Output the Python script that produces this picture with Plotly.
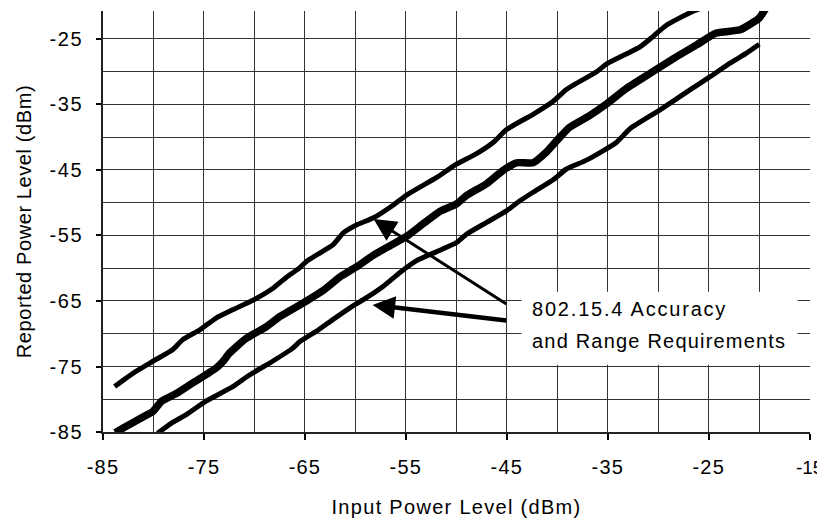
import plotly.graph_objects as go

# Upper requirement limit
upper_x = [-83.85, -82.0, -80.05, -78.07, -77.1, -75.4, -73.8, -72.1, -70.1, -68.2, -66.85,
           -65.5, -64.8, -62.2, -61.2, -59.9, -58.2, -56.2, -54.9, -51.9, -50.3, -48.0,
           -46.35, -45.0, -42.4, -40.4, -39.1, -36.1, -35.1, -31.8, -30.5, -29.2, -26.6, -24.5]
upper_y = [-78.05, -76.0, -74.2, -72.4, -70.9, -69.4, -67.6, -66.3, -64.85, -63.1, -61.4,
           -59.9, -58.9, -56.4, -54.6, -53.4, -52.3, -50.3, -48.8, -46.1, -44.4, -42.5,
           -40.8, -38.8, -36.5, -34.5, -32.7, -30.0, -28.8, -26.2, -24.6, -22.9, -20.8, -19.6]

# Measured reported power
meas_x = [-83.8, -83.0, -81.4, -80.05, -79.2, -77.7, -76.1, -73.8, -73.1, -72.5, -70.8,
          -68.8, -67.5, -66.5, -64.8, -63.2, -61.5, -59.9, -58.2, -56.6, -54.9, -53.2,
          -51.6, -50.0, -49.0, -47.0, -45.4, -44.05, -42.4, -41.1, -40.1, -38.8, -36.8,
          -35.1, -33.2, -30.85, -28.5, -26.2, -24.25, -21.9, -20.0, -19.3]
meas_y = [-85.1, -84.4, -83.0, -81.85, -80.3, -79.1, -77.5, -75.25, -74.2, -73.0, -70.7,
          -68.9, -67.4, -66.5, -64.95, -63.4, -61.3, -59.8, -58.0, -56.6, -55.1, -53.1,
          -51.3, -50.2, -48.9, -47.1, -45.1, -43.9, -43.9, -42.3, -40.6, -38.5, -36.7,
          -34.9, -32.6, -30.3, -28.0, -25.9, -24.1, -23.6, -21.8, -20.2]

# Lower requirement limit
lower_x = [-79.6, -78.07, -76.75, -74.8, -72.1, -70.5, -68.2, -66.2, -65.5, -63.84, -62.2,
           -60.5, -58.9, -57.2, -55.55, -53.9, -52.0, -50.0, -49.0, -47.0, -45.0, -43.7,
           -42.4, -40.4, -39.1, -37.1, -34.15, -32.8, -29.9, -26.9, -24.9, -22.9, -21.3, -20.0]
lower_y = [-85.2, -83.5, -82.35, -80.3, -78.05, -76.3, -74.2, -72.2, -71.2, -69.6, -67.8,
           -66.0, -64.5, -62.7, -60.6, -58.8, -57.5, -56.1, -54.8, -53.0, -51.2, -49.7,
           -48.4, -46.5, -44.85, -43.5, -40.8, -38.7, -35.9, -32.8, -30.8, -28.7, -27.2, -25.8]

x_ticks = [-85, -75, -65, -55, -45, -35, -25, -15]
x_tick_labels = ["-85", "-75", "-65", "-55", "-45", "-35", "-25", "-15"]
y_ticks = [-85, -75, -65, -55, -45, -35, -25]
y_tick_labels = ["-85", "-75", "-65", "-55", "-45", "-35", "-25"]
x_range = [-85, -14.97]
y_range = [-85, -20.73]
grid_step = 5

label_lines = ["802.15.4 Accuracy", "and Range Requirements"]
x_title = "Input Power Level (dBm)"
y_title = "Reported Power Level (dBm)"

FONT = "Liberation Sans, Arial, sans-serif"


def spaced(t, ls):
    return '<span style="letter-spacing:%spx">%s</span>' % (ls, t)


fig = go.Figure()
fig.add_trace(go.Scatter(x=upper_x, y=upper_y, mode="lines",
                         line=dict(color="black", width=5, shape="spline", smoothing=0.5),
                         showlegend=False))
fig.add_trace(go.Scatter(x=meas_x, y=meas_y, mode="lines",
                         line=dict(color="black", width=7.5, shape="spline", smoothing=0.5),
                         showlegend=False))
fig.add_trace(go.Scatter(x=lower_x, y=lower_y, mode="lines",
                         line=dict(color="black", width=5, shape="spline", smoothing=0.5),
                         showlegend=False))

# white label box
fig.add_shape(type="rect", xref="x", yref="y", x0=-43.55, x1=-16.2, y0=-74.73, y1=-63.6,
              fillcolor="white", line=dict(width=0), layer="between")

fig.add_annotation(x=-42.7, y=-66.19, xref="x", yref="y", text=spaced(label_lines[0], 1.8),
                   showarrow=False, xanchor="left", yanchor="middle",
                   font=dict(family=FONT, size=20, color="black"))
fig.add_annotation(x=-42.7, y=-71.07, xref="x", yref="y", text=spaced(label_lines[1], 1.2),
                   showarrow=False, xanchor="left", yanchor="middle",
                   font=dict(family=FONT, size=20, color="black"))

# arrows
fig.add_annotation(x=-58.2, y=-52.5, ax=-44.9, ay=-65.6, xref="x", yref="y",
                   axref="x", ayref="y", text="", showarrow=True,
                   arrowhead=2, arrowsize=1.5, arrowwidth=3, arrowcolor="black")
fig.add_annotation(x=-58.3, y=-65.6, ax=-44.9, ay=-68.0, xref="x", yref="y",
                   axref="x", ayref="y", text="", showarrow=True,
                   arrowhead=2, arrowsize=1.0, arrowwidth=4.5, arrowcolor="black")

# last label sits on the right page edge: drawn a touch narrower so it is not clipped
x_text = [spaced(t, 1.2) for t in x_tick_labels[:-1]] + [
    '<span style="font-size:19px;letter-spacing:0px">%s</span>' % x_tick_labels[-1]]

grid_col = "#333333"
fig.update_xaxes(range=x_range, tickmode="array", tickvals=x_ticks, ticktext=x_text,
                 ticks="outside", ticklen=6, automargin=False,
                 tickwidth=1.5, tickcolor="black", showgrid=True, gridcolor=grid_col,
                 gridwidth=1, minor=dict(tick0=-85, dtick=grid_step, showgrid=True,
                                         gridcolor=grid_col, gridwidth=1, ticks=""),
                 showline=True, linecolor="#222222", linewidth=2, zeroline=False,
                 ticklabelstandoff=10, ticklabeloverflow="allow",
                 tickfont=dict(family=FONT, size=20, color="black"),
                 title=dict(text=spaced(x_title, 1.3), standoff=31,
                            font=dict(family=FONT, size=20, color="black")))
fig.update_yaxes(range=y_range, tickmode="array", tickvals=y_ticks,
                 ticktext=[spaced(t, 1.5) for t in y_tick_labels],
                 ticks="outside", ticklen=5, automargin=False,
                 tickwidth=1.5, tickcolor="black", showgrid=True, gridcolor=grid_col,
                 gridwidth=1, minor=dict(tick0=-85, dtick=grid_step, showgrid=True,
                                         gridcolor=grid_col, gridwidth=1, ticks=""),
                 showline=True, linecolor="#222222", linewidth=2, zeroline=False,
                 ticklabelstandoff=9,
                 tickfont=dict(family=FONT, size=20, color="black"),
                 title=dict(text=spaced(y_title, 0.6), standoff=13,
                            font=dict(family=FONT, size=20, color="black")))

# page body adds an 8 px offset, so the figure is sized/margined to compensate
fig.update_layout(width=817, height=510, margin=dict(l=95, r=15, t=3, b=86),
                  plot_bgcolor="white", paper_bgcolor="white", showlegend=False)

fig.write_html("out.html")
